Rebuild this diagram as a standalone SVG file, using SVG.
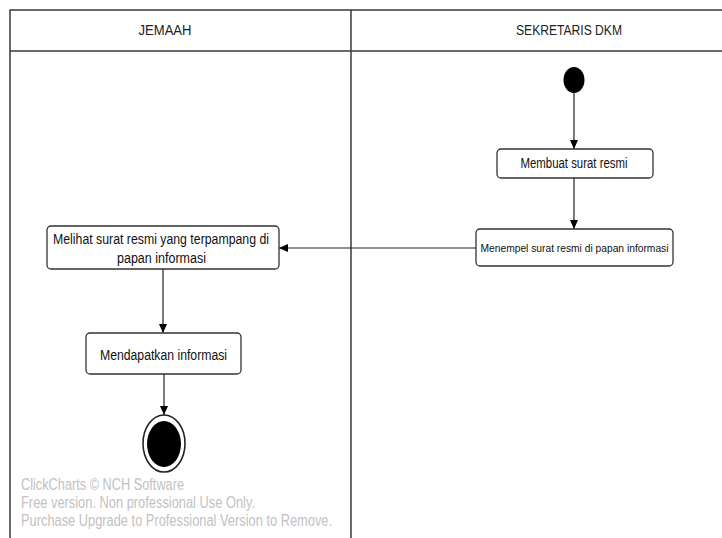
<svg xmlns="http://www.w3.org/2000/svg" width="722" height="538" viewBox="0 0 722 538">
<defs>
<marker id="arr" markerWidth="10" markerHeight="10" refX="9" refY="5" orient="auto" markerUnits="userSpaceOnUse">
<path d="M0,1 L9,5 L0,9 Z" fill="#000"/>
</marker>
<style>
.lane{fill:none;stroke:#3a3a3a;stroke-width:1.5}
.hdr{font-family:"Liberation Sans",Arial,sans-serif;font-size:14px;fill:#222;text-anchor:middle}
.box{fill:#fff;stroke:#333;stroke-width:1.3}
.lbl{font-family:"Liberation Sans",Arial,sans-serif;font-size:14px;fill:#111;text-anchor:middle}
.sm{font-size:11.5px}
.con{fill:none;stroke:#222;stroke-width:1.2;marker-end:url(#arr)}
.wm{font-family:"Liberation Sans",Arial,sans-serif;font-size:16px;fill:#c2c2c2}
</style>
</defs>
<rect width="722" height="538" fill="#fff"/>
<g id="swimlanes">
<path class="lane" d="M10,538 L10,10 L722,10 M10,51 L722,51 M351,10 L351,538"/>
<text class="hdr" x="165" y="35" textLength="53" lengthAdjust="spacingAndGlyphs">JEMAAH</text>
<text class="hdr" x="569" y="35" textLength="106" lengthAdjust="spacingAndGlyphs">SEKRETARIS DKM</text>
</g>
<g id="connectors">
<line class="con" x1="574" y1="93" x2="574" y2="149"/>
<line class="con" x1="574" y1="178" x2="574" y2="229"/>
<line class="con" x1="476" y1="248" x2="279" y2="248"/>
<line class="con" x1="163" y1="269" x2="163" y2="333"/>
<line class="con" x1="164" y1="374" x2="164" y2="415"/>
</g>
<g id="start">
<ellipse cx="574" cy="80" rx="10.5" ry="13" fill="#000"/>
</g>
<g id="membuat">
<rect class="box" x="497" y="149" width="156" height="29" rx="4"/>
<text class="lbl" x="574" y="168" textLength="107" lengthAdjust="spacingAndGlyphs">Membuat surat resmi</text>
</g>
<g id="menempel">
<rect class="box" x="476" y="229" width="197" height="37" rx="4"/>
<text class="lbl sm" x="574.5" y="252" textLength="188" lengthAdjust="spacingAndGlyphs">Menempel surat resmi di papan informasi</text>
</g>
<g id="melihat">
<rect class="box" x="47" y="226" width="232" height="43" rx="4"/>
<text class="lbl" x="161" y="244" textLength="216" lengthAdjust="spacingAndGlyphs">Melihat surat resmi yang terpampang di</text>
<text class="lbl" x="161.5" y="263" textLength="89" lengthAdjust="spacingAndGlyphs">papan informasi</text>
</g>
<g id="mendapatkan">
<rect class="box" x="86" y="333" width="155" height="41" rx="4"/>
<text class="lbl" x="163.5" y="360" textLength="127" lengthAdjust="spacingAndGlyphs">Mendapatkan informasi</text>
</g>
<g id="end">
<ellipse cx="164" cy="443.5" rx="21" ry="28.5" fill="#fff" stroke="#222" stroke-width="1.6"/>
<ellipse cx="164" cy="444" rx="17" ry="23" fill="#000"/>
</g>
<g id="watermark">
<text class="wm" x="21" y="490" textLength="163" lengthAdjust="spacingAndGlyphs">ClickCharts © NCH Software</text>
<text class="wm" x="21" y="508" textLength="234" lengthAdjust="spacingAndGlyphs">Free version. Non professional Use Only.</text>
<text class="wm" x="21" y="526" textLength="311" lengthAdjust="spacingAndGlyphs">Purchase Upgrade to Professional Version to Remove.</text>
</g>
</svg>
